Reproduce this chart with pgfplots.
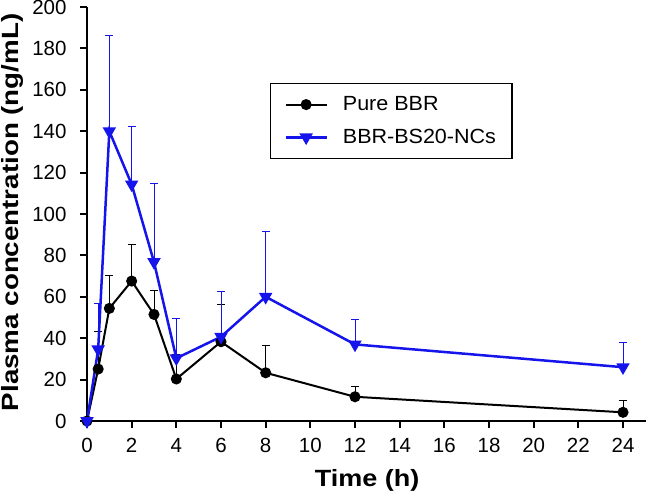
\documentclass[border=0pt]{standalone}
\usepackage{pgfplots}
\pgfplotsset{compat=1.18}
\usepackage{fontspec}
\setmainfont{Liberation Sans}
\definecolor{bbrblue}{RGB}{20,20,235}

\begin{document}
\begin{tikzpicture}
    \begin{axis}[
            scale only axis,
            width=559pt, height=414pt,
            xmin=0, xmax=25.03,
            ymin=0, ymax=200,
            clip=false,
            axis x line=bottom,
            axis y line=left,
            axis line style={-, line width=2.3pt},
            xtick={0,2,...,24},
            ytick={0,20,...,200},
            tick align=outside,
            major tick length=7pt,
            every tick/.style={black, line width=2pt},
            tick label style={font=\fontsize{20.5}{20.5}\selectfont},
            xticklabel style={yshift=-7pt},
            yticklabel style={xshift=-10pt},
            /pgf/number format/assume math mode=true,
            xlabel={\scalebox{1.15}[1]{\bfseries Time (h)}},
            xlabel style={font=\fontsize{23.5}{23.5}\selectfont, at={(axis description cs:0.501,0)}, yshift=-59pt, anchor=center},
            ylabel={\scalebox{1.18}[1]{\bfseries Plasma concentration (ng/mL)}},
            ylabel style={font=\fontsize{23.5}{23.5}\selectfont, at={(axis description cs:-0.134,0.504)}, anchor=center},
            legend style={
                at={(axis description cs:0.327,0.816)},
                anchor=north west,
                draw=black, line width=1.2pt,
                font=\fontsize{20.5}{20.5}\selectfont,
                inner xsep=14pt, inner ysep=11pt,
                row sep=13pt,
                column sep=13pt,
                cells={anchor=west}
            },
            legend image code/.code={
                \draw[mark repeat=2, mark phase=2] plot coordinates {(0pt,0pt) (20.5pt,0pt) (41pt,0pt)};
            }
        ]
        % pure drug
        \addplot+[black, line width=2pt, mark=*, mark size=4.5pt, mark options={solid, fill=black},
            error bars/.cd, y dir=plus, y explicit,
            error bar style={line width=1pt, black},
            error mark options={rotate=90, mark size=4pt, line width=1pt, black}]
            coordinates {
                (0,0) +- (0,0)
                (0.5,25.1) +- (0,18)
                (1,54.4) +- (0,16)
                (2,67.6) +- (0,17.5)
                (3,51.5) +- (0,11.5)
                (4,20.3) +- (0,12)
                (6,38.3) +- (0,18)
                (8,23.3) +- (0,13)
                (12,11.7) +- (0,5)
                (24,4.2) +- (0,5.6)
            };
        \addlegendentry{\scalebox{1.05}[1]{Pure BBR}}

        % nanocrystals
        \addplot+[bbrblue, line width=2.5pt, mark=triangle*, mark size=5.3pt, mark options={solid, fill=bbrblue, rotate=180},
            error bars/.cd, y dir=plus, y explicit,
            error bar style={line width=1pt, bbrblue},
            error mark options={rotate=90, mark size=4pt, line width=1pt, bbrblue}]
            coordinates {
                (0,0) +- (0,0)
                (0.5,34.6) +- (0,22)
                (1,140) +- (0,46)
                (2,114.3) +- (0,28)
                (3,76.8) +- (0,38)
                (4,30.3) +- (0,19)
                (6,40.7) +- (0,22)
                (8,60) +- (0,31.5)
                (12,37) +- (0,12)
                (24,26) +- (0,12)
            };
        \addlegendentry{\scalebox{1.05}[1]{BBR-BS20-NCs}}
    \end{axis}
    \pgfresetboundingbox
    \path[use as bounding box] (-87pt,-75pt) rectangle (560pt,421pt);
\end{tikzpicture}
\end{document}
